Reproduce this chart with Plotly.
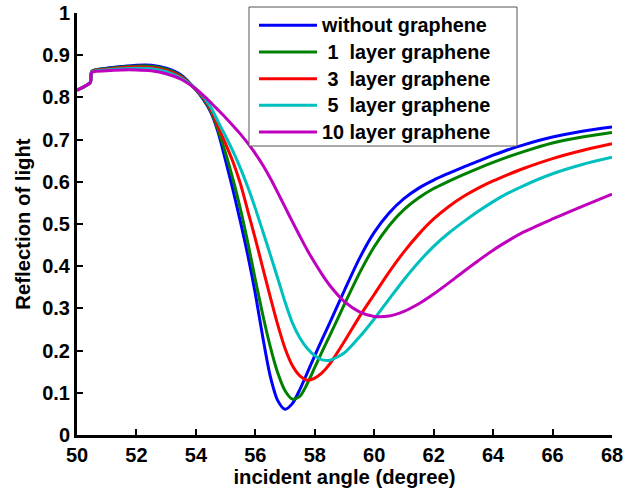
import plotly.graph_objects as go

angle = [50, 50.25, 50.45, 50.5, 51, 51.5, 52, 52.5, 53, 53.5, 54, 54.25, 54.5, 54.75,
         55, 55.25, 55.5, 55.75, 56, 56.25, 56.5, 56.75, 57, 57.25, 57.5, 57.75,
         58, 58.25, 58.5, 59, 59.5, 60, 60.5, 61, 61.5, 62, 62.5, 63, 63.5, 64, 64.5,
         65, 66, 67, 68]

without_graphene = [0.817, 0.826, 0.836, 0.862, 0.869, 0.873, 0.876, 0.876, 0.869, 0.853, 0.818, 0.795, 0.765, 0.717,
                    0.650, 0.580, 0.505, 0.425, 0.335, 0.232, 0.140, 0.082, 0.061, 0.075, 0.108, 0.148,
                    0.188, 0.227, 0.265, 0.343, 0.418, 0.480, 0.526, 0.560, 0.585, 0.604, 0.620, 0.635, 0.649, 0.663, 0.676,
                    0.687, 0.706, 0.720, 0.730]

layer_1 = [0.817, 0.826, 0.836, 0.862, 0.868, 0.872, 0.874, 0.874, 0.867, 0.851, 0.818, 0.797, 0.768, 0.722,
           0.668, 0.605, 0.535, 0.455, 0.368, 0.285, 0.210, 0.148, 0.105, 0.085, 0.092, 0.122,
           0.160, 0.198, 0.235, 0.310, 0.383, 0.446, 0.496, 0.534, 0.562, 0.584, 0.601, 0.617, 0.632, 0.646, 0.659,
           0.671, 0.692, 0.706, 0.717]

layer_3 = [0.817, 0.826, 0.836, 0.861, 0.866, 0.870, 0.872, 0.871, 0.864, 0.849, 0.819, 0.800, 0.772, 0.730,
           0.690, 0.647, 0.595, 0.530, 0.465, 0.396, 0.328, 0.262, 0.205, 0.164, 0.140, 0.130,
           0.135, 0.148, 0.168, 0.222, 0.280, 0.333, 0.386, 0.434, 0.476, 0.512, 0.541, 0.565, 0.585, 0.602, 0.617,
           0.631, 0.655, 0.674, 0.690]

layer_5 = [0.817, 0.826, 0.836, 0.860, 0.865, 0.868, 0.869, 0.868, 0.861, 0.846, 0.820, 0.802, 0.777, 0.742,
           0.708, 0.672, 0.632, 0.587, 0.537, 0.483, 0.428, 0.372, 0.315, 0.265, 0.230, 0.205,
           0.188, 0.178, 0.177, 0.195, 0.232, 0.275, 0.322, 0.368, 0.410, 0.447, 0.478, 0.505, 0.530, 0.553, 0.573,
           0.590, 0.619, 0.641, 0.658]

layer_10 = [0.817, 0.826, 0.835, 0.859, 0.863, 0.865, 0.865, 0.863, 0.856, 0.843, 0.820, 0.805, 0.788, 0.770,
            0.752, 0.733, 0.713, 0.691, 0.667, 0.640, 0.609, 0.575, 0.540, 0.505, 0.471, 0.438,
            0.408, 0.380, 0.355, 0.316, 0.292, 0.281, 0.282, 0.293, 0.311, 0.334, 0.360, 0.387, 0.413, 0.438, 0.460,
            0.480, 0.512, 0.542, 0.571]

series_names = ["without graphene", "\u00a01\u00a0\u00a0layer graphene", "\u00a03\u00a0\u00a0layer graphene",
                "\u00a05\u00a0\u00a0layer graphene", "10 layer graphene"]
series_values = [without_graphene, layer_1, layer_3, layer_5, layer_10]
series_colors = ["#0000FF", "#008000", "#FF0000", "#00BFBF", "#BF00BF"]

x_ticks = [50, 52, 54, 56, 58, 60, 62, 64, 66, 68]
y_ticks = [0, 0.1, 0.2, 0.3, 0.4, 0.5, 0.6, 0.7, 0.8, 0.9, 1]
y_ticklabels = ["0", "0.1", "0.2", "0.3", "0.4", "0.5", "0.6", "0.7", "0.8", "0.9", "1"]

FONT = "Liberation Sans, Arial, sans-serif"

fig = go.Figure()
for name, vals, col in zip(series_names, series_values, series_colors):
    fig.add_trace(go.Scatter(x=angle, y=vals, mode="lines",
                             name='<span style="font-size:19.8px"><b>%s</b></span>' % name,
                             line=dict(color=col, width=3, shape="spline", smoothing=0.8)))

W, H = 643, 490
ml, mr, mt, mb = 77, 31, 13, 55
pw, ph = W - ml - mr, H - mt - mb

def px2paper_x(p):
    return (p - ml) / pw

def px2paper_y(p):
    return (H - mb - p) / ph

fig.add_shape(type="rect", xref="paper", yref="paper",
              x0=px2paper_x(249), x1=px2paper_x(517), y0=px2paper_y(146), y1=px2paper_y(7),
              line=dict(color="#555555", width=1), fillcolor="white", layer="above")

fig.update_layout(
    width=W, height=H,
    margin=dict(l=ml, r=mr, t=mt, b=mb, autoexpand=False),
    paper_bgcolor="white", plot_bgcolor="white",
    font=dict(family=FONT, size=20, color="black"),
    showlegend=True,
    legend=dict(x=px2paper_x(254), y=px2paper_y(7), xanchor="left", yanchor="top",
                bgcolor="rgba(0,0,0,0)", borderwidth=0, itemwidth=58,
                font=dict(family=FONT, size=18.2, color="black"),
                traceorder="normal"),
    xaxis=dict(range=[50, 68], tickvals=x_ticks, ticktext=["<b>%d</b>" % v for v in x_ticks],
               showline=True, linecolor="black", linewidth=3, mirror=False,
               ticks="inside", ticklen=6, tickwidth=2, tickcolor="black",
               showgrid=False, zeroline=False,
               tickfont=dict(family=FONT, size=20, color="black"),
               title=dict(text="<b>incident angle (degree)</b>", standoff=1,
                          font=dict(family=FONT, size=20.3, color="black"))),
    yaxis=dict(range=[0, 1], tickvals=y_ticks, ticktext=["<b>%s</b>" % t for t in y_ticklabels],
               showline=True, linecolor="black", linewidth=3, mirror=False,
               ticks="inside", ticklen=6, tickwidth=2, tickcolor="black",
               showgrid=False, zeroline=False,
               tickfont=dict(family=FONT, size=20, color="black"),
               title=dict(text="<b>Reflection of light</b>", standoff=7,
                          font=dict(family=FONT, size=20.3, color="black"))),
)

fig.write_html("out.html")
